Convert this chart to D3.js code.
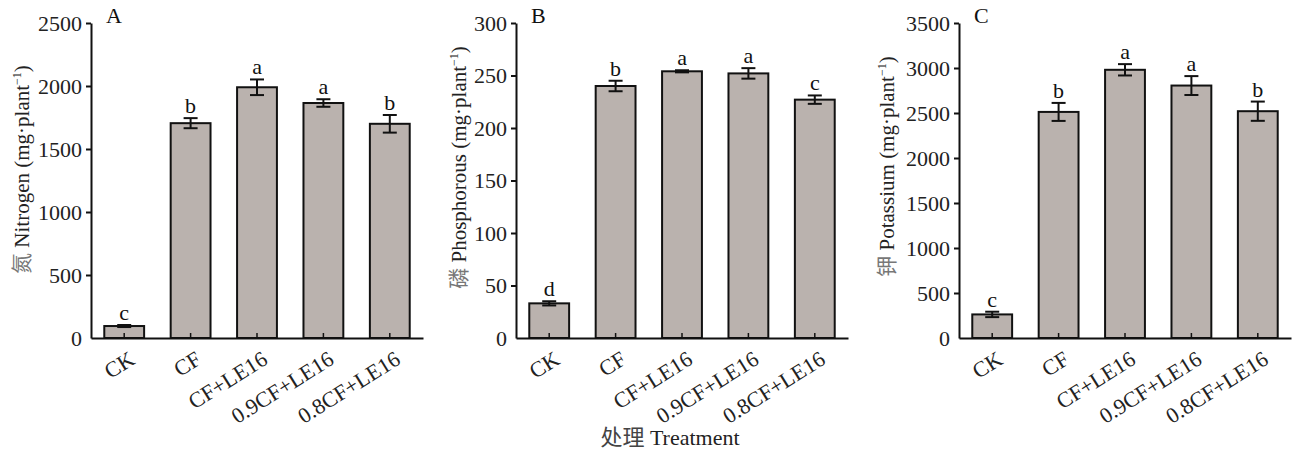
<!DOCTYPE html>
<html>
<head>
<meta charset="utf-8">
<script src="https://cdn.jsdelivr.net/npm/d3@7"></script>
<style>
  body { margin: 0; background: #fff; }
  text { font-family: "Liberation Serif", "Times New Roman", serif; }
</style>
</head>
<body>
<div id="gr"></div>
<script>
var treatments = ["CK", "CF", "CF+LE16", "0.9CF+LE16", "0.8CF+LE16"];

var nitrogen = [95, 1705, 1990, 1865, 1700];
var nitrogenErr = [8, 40, 62, 30, 70];
var nitrogenSig = ["c", "b", "a", "a", "b"];
var nitrogenTicks = [0, 500, 1000, 1500, 2000, 2500];

var phosphorus = [33, 240, 254, 252, 227];
var phosphorusErr = [2, 5, 1, 5, 4];
var phosphorusSig = ["d", "b", "a", "a", "c"];
var phosphorusTicks = [0, 50, 100, 150, 200, 250, 300];

var potassium = [262, 2512, 2980, 2805, 2520];
var potassiumErr = [30, 100, 63, 105, 107];
var potassiumSig = ["c", "b", "a", "a", "b"];
var potassiumTicks = [0, 500, 1000, 1500, 2000, 2500, 3000, 3500];

var panels = [
  { left: 91, tag: "A", cn: "氮", en: "Nitrogen", values: nitrogen, err: nitrogenErr, sig: nitrogenSig, ticks: nitrogenTicks, labelX: -62, labelY: 11 },
  { left: 516, tag: "B", cn: "磷", en: "Phosphorous", values: phosphorus, err: phosphorusErr, sig: phosphorusSig, ticks: phosphorusTicks, labelX: -50, labelY: 13 },
  { left: 959, tag: "C", cn: "钾", en: "Potassium", values: potassium, err: potassiumErr, sig: potassiumSig, ticks: potassiumTicks, labelX: -65, labelY: 14 }
];

var W = 1295, H = 451;
var plotTop = 23, plotBottom = 338, plotW = 332;

var svg = d3.select("#gr").append("svg")
  .attr("width", W)
  .attr("height", H);

panels.forEach(function (p) {
  var g = svg.append("g").attr("transform", "translate(" + p.left + ",0)");

  var x = d3.scaleBand().domain(treatments).range([0, plotW])
    .paddingInner(0.4).paddingOuter(0.2);
  var y = d3.scaleLinear().domain([0, d3.max(p.ticks)]).range([plotBottom, plotTop]);

  // bars
  g.selectAll("rect.bar").data(p.values).enter().append("rect")
    .attr("class", "bar")
    .attr("x", function (d, i) { return x(treatments[i]); })
    .attr("y", function (d) { return y(d); })
    .attr("width", x.bandwidth())
    .attr("height", function (d) { return plotBottom - y(d); })
    .attr("fill", "#bab2ae")
    .attr("stroke", "#111")
    .attr("stroke-width", 2);

  // error bars
  var eb = g.selectAll("g.err").data(p.values).enter().append("g")
    .attr("class", "err")
    .attr("transform", function (d, i) { return "translate(" + (x(treatments[i]) + x.bandwidth() / 2) + ",0)"; });
  eb.append("line")
    .attr("y1", function (d, i) { return y(d - p.err[i]); })
    .attr("y2", function (d, i) { return y(d + p.err[i]); });
  eb.append("line").attr("x1", -7).attr("x2", 7)
    .attr("y1", function (d, i) { return y(d + p.err[i]); })
    .attr("y2", function (d, i) { return y(d + p.err[i]); });
  eb.append("line").attr("x1", -7).attr("x2", 7)
    .attr("y1", function (d, i) { return y(d - p.err[i]); })
    .attr("y2", function (d, i) { return y(d - p.err[i]); });
  eb.selectAll("line").attr("stroke", "#111").attr("stroke-width", 2);

  // significance letters
  eb.append("text")
    .attr("y", function (d, i) { return y(d + p.err[i]) - 5; })
    .attr("text-anchor", "middle")
    .style("font-size", "22px")
    .attr("fill", "#111")
    .text(function (d, i) { return p.sig[i]; });

  // y axis
  var yAxis = d3.axisLeft(y).tickValues(p.ticks).tickFormat(d3.format("d"))
    .tickSize(5).tickSizeOuter(0).tickPadding(4);
  var ya = g.append("g").call(yAxis);
  ya.select(".domain").attr("stroke", "#111").attr("stroke-width", 2);
  ya.selectAll(".tick line").attr("stroke", "#111").attr("stroke-width", 2)
    .filter(function (d) { return d === 0; }).remove();
  ya.selectAll(".tick text").style("font-size", "22px").attr("fill", "#222")
    .style("font-family", "Liberation Serif");

  // x axis with inward ticks
  var xAxis = d3.axisBottom(x).tickSize(-5).tickSizeOuter(0);
  var xa = g.append("g").attr("transform", "translate(0," + plotBottom + ")").call(xAxis);
  xa.select(".domain").attr("stroke", "#111").attr("stroke-width", 2);
  xa.selectAll(".tick line").attr("stroke", "#111").attr("stroke-width", 1.5);
  xa.selectAll(".tick text")
    .attr("x", 0).attr("y", 0).attr("dy", 0)
    .attr("text-anchor", "end")
    .attr("transform", "translate(12,25) rotate(-32)")
    .style("font-size", "22px")
    .style("font-family", "Liberation Serif")
    .attr("fill", "#222");

  // panel tag
  g.append("text")
    .attr("x", 15).attr("y", 23)
    .style("font-size", "22px")
    .attr("fill", "#111")
    .text(p.tag);

  // y label
  var yl = g.append("text")
    .attr("transform", "translate(" + p.labelX + "," + ((plotTop + plotBottom) / 2 - p.labelY) + ") rotate(-90)")
    .attr("text-anchor", "middle")
    .style("font-size", "21px")
    .attr("fill", "#222");
  yl.append("tspan").attr("fill", "#777").style("font-family", "Noto Sans CJK SC").text(p.cn);
  yl.append("tspan").text(" " + p.en + " (mg·plant");
  yl.append("tspan").attr("dy", -8).style("font-size", "12px").text("−1");
  yl.append("tspan").attr("dy", 8).text(")");
});

// x axis title
var xt = svg.append("text")
  .attr("x", 670).attr("y", 445)
  .attr("text-anchor", "middle")
  .style("font-size", "22px")
  .attr("fill", "#222");
xt.append("tspan").attr("fill", "#444").style("font-family", "Noto Sans CJK SC").text("处理");
xt.append("tspan").text(" Treatment");
</script>
</body>
</html>
